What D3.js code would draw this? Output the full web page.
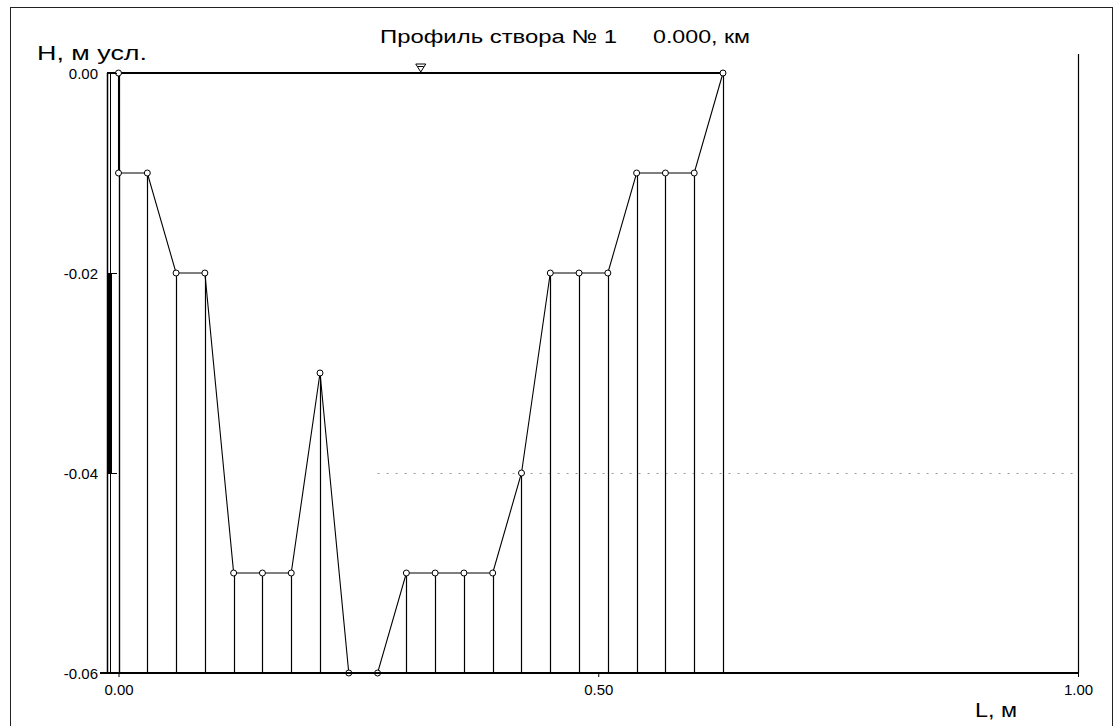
<!DOCTYPE html>
<html>
<head>
<meta charset="utf-8">
<script src="https://cdn.jsdelivr.net/npm/d3@7"></script>
<style>
  html, body { margin: 0; padding: 0; background: #fff; }
  svg { display: block; }
  text { font-family: "Liberation Sans", Arial, sans-serif; fill: #000; }
</style>
</head>
<body>
<svg id="chart" width="1115" height="726"></svg>
<script>
// ---- data ----
const distances = [0, 0, 0.03, 0.06, 0.09, 0.12, 0.15, 0.18, 0.21, 0.24, 0.27, 0.30,
                   0.33, 0.36, 0.39, 0.42, 0.45, 0.48, 0.51, 0.54, 0.57, 0.60, 0.63];
const heights   = [0, -0.01, -0.01, -0.02, -0.02, -0.05, -0.05, -0.05, -0.03, -0.06, -0.06, -0.05,
                   -0.05, -0.05, -0.05, -0.04, -0.02, -0.02, -0.02, -0.01, -0.01, -0.01, 0];
const waterLevel = 0.00;
const waterMarkL = 0.315;
const xTicks = [0, 0.5, 1.0];
const yTicks = [0, -0.02, -0.04, -0.06];
const titleMain = "Профиль створа № 1";
const titleKm = "0.000, км";
const yLabel = "H, м усл.";
const xLabel = "L, м";

const points = distances.map((d, i) => ({ L: d, H: heights[i] }));

const svg = d3.select("#chart");

const x = d3.scaleLinear().domain([-0.012, 1.0]).range([107, 1078]);
const y = d3.scaleLinear().domain([-0.06, 0]).range([673, 73]);
const fmt = d => d.toFixed(2);

// outer frame
svg.append("rect").attr("x", 10.5).attr("y", 7.5).attr("width", 1102).attr("height", 730)
  .attr("fill", "none").attr("stroke", "#222").attr("stroke-width", 1);

// faint dotted grid at -0.04
svg.append("line")
  .attr("x1", x(0.27)).attr("x2", x(1.0))
  .attr("y1", y(-0.04) + 0.5).attr("y2", y(-0.04) + 0.5)
  .attr("stroke", "#999").attr("stroke-width", 1).attr("stroke-dasharray", "2,7");

// vertical drop lines from each point to the bottom
svg.append("g").selectAll("line").data(points.filter(p => p.H > -0.06)).join("line")
  .attr("x1", p => Math.round(x(p.L)) + 0.5).attr("x2", p => Math.round(x(p.L)) + 0.5)
  .attr("y1", p => y(p.H)).attr("y2", y(-0.06))
  .attr("stroke", "#000").attr("stroke-width", 1.2);

// water surface line
svg.append("line")
  .attr("x1", x.range()[0]).attr("x2", x(distances[distances.length - 1]))
  .attr("y1", y(waterLevel)).attr("y2", y(waterLevel))
  .attr("stroke", "#000").attr("stroke-width", 2);

// profile line
svg.append("path").datum(points)
  .attr("d", d3.line().x(p => x(p.L)).y(p => y(p.H)))
  .attr("fill", "none").attr("stroke", "#000").attr("stroke-width", 1.1);

// point markers
svg.append("g").selectAll("circle").data(points).join("circle")
  .attr("cx", p => x(p.L)).attr("cy", p => y(p.H)).attr("r", 3)
  .attr("fill", "#fff").attr("stroke", "#000").attr("stroke-width", 1);

// water level marker ∇
const mx = x(waterMarkL), my = y(waterLevel);
svg.append("path")
  .attr("d", `M${mx - 5},${my - 9} L${mx + 5},${my - 9} L${mx},${my - 1} Z M${mx - 3},${my - 6.5} L${mx + 3},${my - 6.5}`)
  .attr("fill", "none").attr("stroke", "#000").attr("stroke-width", 1);

// y axis
const yAxis = svg.append("g").attr("transform", `translate(${x.range()[0]},0)`)
  .call(d3.axisLeft(y).tickValues(yTicks).tickFormat(fmt).tickSizeInner(7).tickSizeOuter(0).tickPadding(2));
yAxis.select(".domain").remove();
yAxis.selectAll(".tick line").attr("stroke", "#000").attr("x2", 10);
yAxis.selectAll(".tick text").attr("font-size", 15).attr("dy", "0.38em")
  .style("font-family", "'Liberation Sans', Arial, sans-serif");

// y axis lines (double line)
svg.append("line").attr("x1", 107.5).attr("x2", 107.5).attr("y1", y(0)).attr("y2", y(-0.06))
  .attr("stroke", "#000").attr("stroke-width", 1.5);
svg.append("line").attr("x1", 110.5).attr("x2", 110.5).attr("y1", y(0)).attr("y2", y(-0.06))
  .attr("stroke", "#000").attr("stroke-width", 1);
svg.append("line").attr("x1", 110).attr("x2", 110).attr("y1", y(-0.02)).attr("y2", y(-0.04))
  .attr("stroke", "#000").attr("stroke-width", 4);

// x axis
const xAxis = svg.append("g").attr("transform", `translate(0,${y(-0.06)})`)
  .call(d3.axisBottom(x).tickValues(xTicks).tickFormat(fmt).tickSizeInner(4).tickSizeOuter(0));
xAxis.select(".domain").remove();
xAxis.selectAll(".tick line").attr("stroke", "#000");
xAxis.selectAll(".tick text").attr("font-size", 15).attr("dy", null).attr("y", 22)
  .style("font-family", "'Liberation Sans', Arial, sans-serif");
svg.append("line").attr("x1", 100).attr("x2", x(1.0)).attr("y1", y(-0.06)).attr("y2", y(-0.06))
  .attr("stroke", "#000").attr("stroke-width", 2);

// right border line
svg.append("line").attr("x1", x(1.0) + 0.5).attr("x2", x(1.0) + 0.5).attr("y1", 54).attr("y2", y(-0.06))
  .attr("stroke", "#000").attr("stroke-width", 1.2);

// titles
svg.append("text").attr("x", 380).attr("y", 43).attr("font-size", 19)
  .attr("textLength", 237).attr("lengthAdjust", "spacingAndGlyphs").text(titleMain);
svg.append("text").attr("x", 653).attr("y", 43).attr("font-size", 19)
  .attr("textLength", 97).attr("lengthAdjust", "spacingAndGlyphs").text(titleKm);
svg.append("text").attr("x", 37).attr("y", 60).attr("font-size", 20)
  .attr("textLength", 110).attr("lengthAdjust", "spacingAndGlyphs").text(yLabel);
svg.append("text").attr("x", 975).attr("y", 717).attr("font-size", 20)
  .attr("textLength", 42).attr("lengthAdjust", "spacingAndGlyphs").text(xLabel);
</script>
</body>
</html>
